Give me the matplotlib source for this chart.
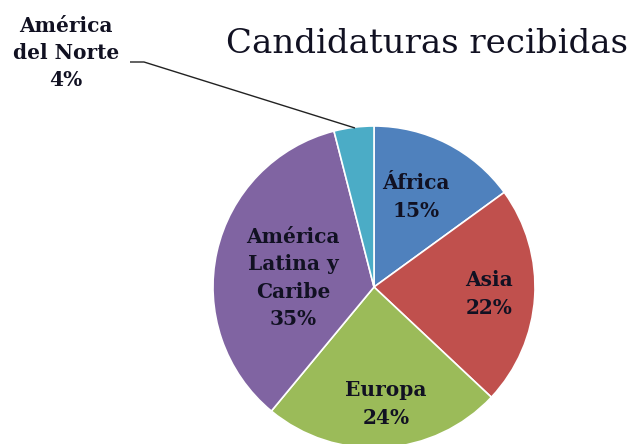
import matplotlib
matplotlib.use("Agg")
import matplotlib.pyplot as plt

categories = ["África", "Asia", "Europa", "América\nLatina y\nCaribe", "América\ndel Norte"]
values = [15, 22, 24, 35, 4]
colors = ["#4F81BD", "#C0504D", "#9BBB59", "#8064A2", "#4BACC6"]
title = "Candidaturas recibidas"

W, H = 637, 444
fig = plt.figure(figsize=(W / 100, H / 100), dpi=100)
ax = fig.add_axes([0, 0, 1, 1])
ax.set_xlim(0, W)
ax.set_ylim(0, H)
ax.set_aspect("equal")
ax.axis("off")

cx, cy, r = 374, H - 287, 161
wedges, _ = ax.pie(values, colors=colors, startangle=90, counterclock=False,
                   center=(cx, cy), radius=r,
                   wedgeprops=dict(edgecolor="white", linewidth=1.2))
ax.set_xlim(0, W)
ax.set_ylim(0, H)

font = dict(family=["DejaVu Serif"], fontweight="bold", color="#111122",
            fontsize=14.5, ha="center", va="center", linespacing=1.45)
label_pos = [(416, 197), (489, 294), (386, 404), (293, 278), (66, 53)]
for lab, v, (px, py) in zip(categories, values, label_pos):
    ax.text(px, H - py, f"{lab}\n{v}%", **font)

# leader line for small slice
ax.plot([130, 144, 355], [H - 62, H - 62, H - 128], color="#222222", lw=1.0,
        solid_capstyle="butt")

fig.text(427 / W, 1 - 44 / H, title, family=["DejaVu Serif"], fontsize=24.5,
         color="#111122", ha="center", va="center")

fig.savefig("out.png", dpi=100)
